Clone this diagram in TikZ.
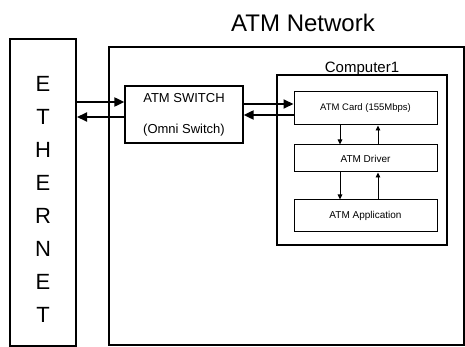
\documentclass[tikz,border=0pt]{standalone}
\usepackage{fontspec}
\setmainfont{Liberation Sans}
\usetikzlibrary{positioning, arrows.meta}

\begin{document}
\begin{tikzpicture}[x=1pt, y=-1pt,
    frame/.style={draw, line width=2pt, inner sep=0pt},
    unit/.style={draw, line width=1.3pt, inner sep=0pt, align=center},
    layer/.style={draw, line width=1pt, minimum width=143pt, inner sep=0pt,
                  font=\fontsize{10}{12}\selectfont},
    link/.style={line width=2pt, -{Triangle[length=10pt, width=9pt]}},
    sublink/.style={line width=0.9pt, -{Triangle[length=5pt, width=4.5pt]}}]
  \useasboundingbox (0,0) rectangle (465,347);
  % ethernet column
  \node[frame, minimum width=66pt, minimum height=307pt] (eth) at (43,192.5) {};
  \foreach \ch [count=\i from 0] in {E,T,H,E,R,N,E,T}
    \node[font=\fontsize{22}{22}\selectfont] (eth\i) at (43,{84+33*\i}) {\ch};
  % atm network
  \node[frame, minimum width=355pt, minimum height=298pt] (net) at (286.5,196) {};
  \node[font=\fontsize{24}{24}\selectfont] (nettitle) at (303,23) {ATM Network};
  \node[unit, minimum width=118pt, minimum height=57pt,
        font=\fontsize{13}{31}\selectfont] (switch) at (184,114.5) {ATM SWITCH\\(Omni Switch)};
  % computer 1
  \node[unit, minimum width=170pt, minimum height=170pt] (comp) at (362,160) {};
  \node[anchor=base, inner sep=0pt, font=\fontsize{15}{15}\selectfont]
        (complabel) at ([yshift=1.5pt]comp.north) {Computer1};
  \node[layer, minimum height=33pt, font=\fontsize{9.5}{12}\selectfont] (card) at (365.5,108.5) {ATM Card (155Mbps)};
  \node[layer, minimum height=27pt, below=19pt of card] (driver) {ATM Driver};
  \node[layer, minimum height=31pt, below=27pt of driver] (app) {ATM Application};
  % links
  \coordinate (swin) at ([yshift=12.5pt]switch.west);
  \coordinate (swout) at ([yshift=-2.5pt]switch.west);
  \draw[link] (swin -| eth.east) -- (swin);
  \draw[link] (swout) -- (swout -| eth.east);
  \coordinate (cdin) at ([yshift=4.5pt]card.west);
  \coordinate (cdout) at ([yshift=-6.5pt]card.west);
  \draw[link] (cdin -| switch.east) -- (cdin);
  \draw[link] (cdout) -- (cdout -| switch.east);
  \draw[sublink] ([xshift=-25.5pt]card.south) -- ([xshift=-25.5pt]driver.north);
  \draw[sublink] ([xshift=12.5pt]driver.north) -- ([xshift=12.5pt]card.south);
  \draw[sublink] ([xshift=-25.5pt]driver.south) -- ([xshift=-25.5pt]app.north);
  \draw[sublink] ([xshift=12.5pt]app.north) -- ([xshift=12.5pt]driver.south);
\end{tikzpicture}
\end{document}
